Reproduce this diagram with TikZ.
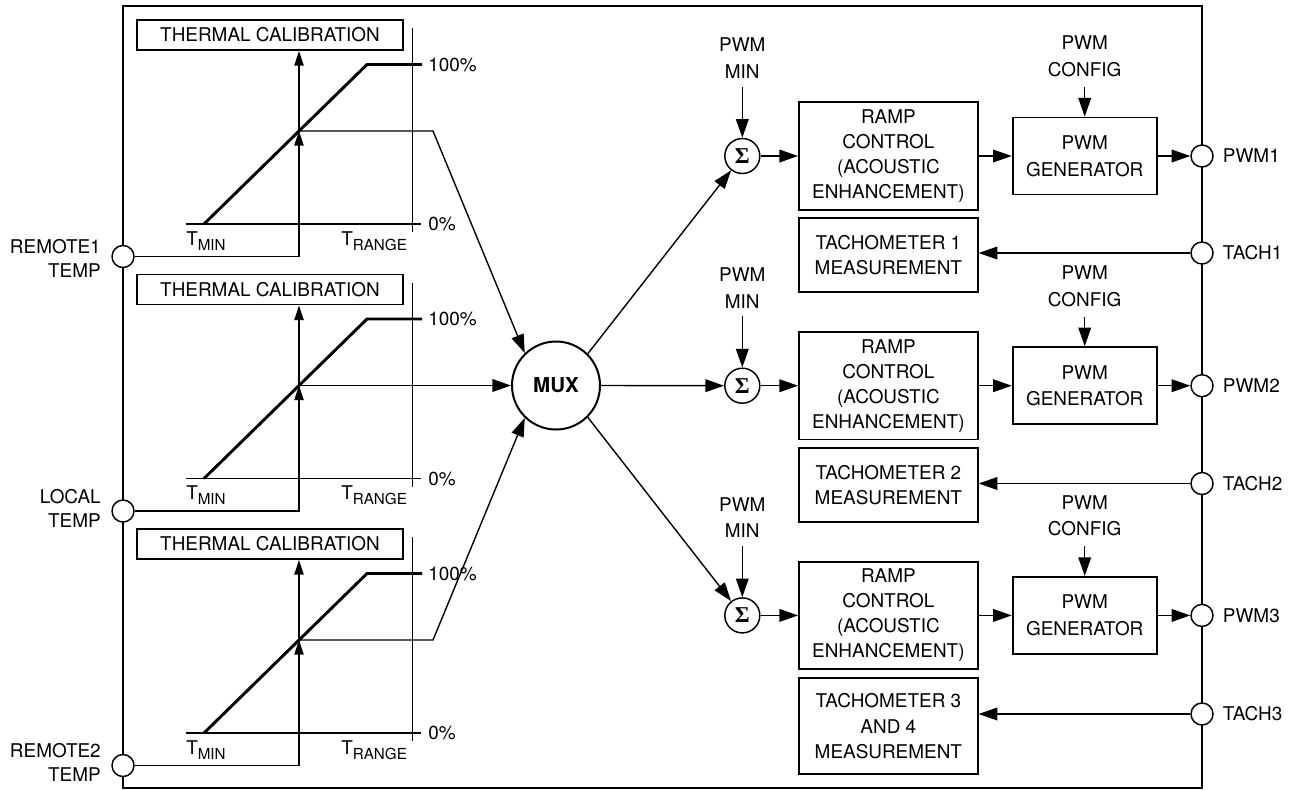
\documentclass[tikz,border=0pt]{standalone}
\usepackage{fontspec}
\setmainfont{TeX Gyre Heros}
\newfontfamily\sigfont{Liberation Serif}
\usetikzlibrary{arrows.meta}
\newcommand{\Tsub}[1]{T\lower3.75pt\hbox{\fontsize{11.4}{12}\selectfont #1}}
\begin{document}
\begin{tikzpicture}[x=0.75pt,y=-0.75pt,
  every node/.style={font=\fontsize{14.2}{19}\selectfont, inner sep=0pt},
  blk/.style={draw, line width=1.4pt, align=center},
  thinline/.style={line width=1.05pt},
  axisline/.style={line width=0.8pt},
  curveline/.style={line width=2.2pt},
  arr/.style={thinline, -{Triangle[length=14pt,width=9.5pt]}},
  sarr/.style={thinline, -{Triangle[length=11pt,width=7pt]}},
  pin/.style={circle, draw, fill=white, line width=1.1pt, minimum size=16.5pt},
  sig/.style={circle, draw, line width=1.1pt, minimum size=26.25pt, font=\sigfont\bfseries\fontsize{17}{17}\selectfont},
  lab2/.style={align=center, font=\fontsize{14.2}{20}\selectfont},
]
\useasboundingbox (0,0) rectangle (1291,790);
\draw[line width=1.5pt] (123,5.5) rectangle (1202,788);

% left pins
\node[pin] (p0) at (123,256.5) {};
\node[pin] (p1) at (123,511) {};
\node[pin] (p2) at (123,765.5) {};
\node[anchor=east, align=right, font=\fontsize{14.2}{18}\selectfont] (lp0) at (101,258) {REMOTE1\\TEMP};
\node[anchor=east, align=right, font=\fontsize{14.2}{18}\selectfont] (lp1) at (101,508) {LOCAL\\TEMP};
\node[anchor=east, align=right, font=\fontsize{14.2}{18}\selectfont] (lp2) at (101,762) {REMOTE2\\TEMP};

% calibration blocks
\foreach \k in {0,1,2} {
  \pgfmathsetmacro\dy{254.5*\k}
  \node[blk, minimum width=199.5pt, minimum height=22.5pt] (cal\k) at (270,35+\dy) {THERMAL CALIBRATION};
  \draw[axisline] (412.3,28+\dy) -- (412.3,232+\dy);
  \draw[axisline] (186,224+\dy) -- (421,224+\dy);
  \draw[curveline] (204,224+\dy) -- (367,64.5+\dy) -- (422,64.5+\dy);
  \coordinate (x\k) at (299,131+\dy);
  \draw[sarr] (p\k.east) -| (x\k);
  \draw[sarr] (x\k) -- (x\k |- cal\k.south);
  \node[anchor=west] (hund\k) at (428,64.5+\dy) {100\%};
  \node[anchor=west] (zero\k) at (428,224+\dy) {0\%};
  \node[anchor=base west] (tmin\k) at (186,245+\dy) {\Tsub{MIN}};
  \node[anchor=base west] (trng\k) at (341,245+\dy) {\Tsub{RANGE}};
}

% MUX
\node[circle, draw, line width=1.5pt, minimum size=66pt, font=\bfseries\fontsize{15.4}{16}\selectfont] (mux) at (556,385.5) {MUX};
\coordinate (b0) at (433,131);
\coordinate (b2) at (433,640);
\draw[arr] (x0) -- (b0) -- (mux.134);
\draw[arr] (x1) -- (mux.west);
\draw[arr] (x2) -- (b2) -- (mux.226);

% right lanes
\foreach \k/\n in {0/1,1/2,2/3} {
  \pgfmathsetmacro\L{156+229.7*\k}
  \node[sig] (s\k) at (742.3,\L) {Σ};
  \node[blk, minimum width=134pt, minimum height=80.7pt, font=\fontsize{14.2}{18.75}\selectfont] (ramp\k) at (888.35,\L) {RAMP\\CONTROL\\(ACOUSTIC\\ENHANCEMENT)};
  \node[blk, minimum width=108pt, minimum height=57.75pt, font=\fontsize{14.2}{20}\selectfont] (gen\k) at (1084.7,\L) {PWM\\GENERATOR};
  \node[pin] (pwm\k) at (1202,\L) {};
  \node[anchor=west] (pwml\k) at (1222.7,\L) {PWM\n};
  \node[lab2] (minlab\k) at (742.3,\L-97.7) {PWM\\MIN};
  \coordinate (mint\k) at (742.3,\L-69.3);
  \draw[arr] (mint\k) -- (s\k.north);
  \node[lab2] (cfglab\k) at (1084.7,\L-99.5) {PWM\\CONFIG};
  \coordinate (cfgt\k) at (1084.7,\L-69);
  \draw[arr] (cfgt\k) -- (gen\k.north);
  \draw[arr] (s\k.east) -- (ramp\k.west);
  \draw[arr] (ramp\k.east) -- (gen\k.west);
  \draw[arr] (gen\k.east) -- (pwm\k.west);
}

% MUX to sums
\draw[arr] (mux.45) -- (s0);
\draw[arr] (mux.east) -- (s1.west);
\draw[arr] (mux.-45) -- (s2);

% tachometers
\node[blk, minimum width=134pt, minimum height=55pt] (tb0) at (888.35,255) {TACHOMETER 1\\MEASUREMENT};
\node[blk, minimum width=134pt, minimum height=55pt] (tb1) at (888.35,485) {TACHOMETER 2\\MEASUREMENT};
\node[blk, minimum width=134pt, minimum height=71.8pt] (tb2) at (888.35,726.15) {TACHOMETER 3\\AND 4\\MEASUREMENT};
\foreach \k/\n in {0/1,1/2,2/3} {
  \pgfmathsetmacro\T{253+230.5*\k}
  \node[pin] (tach\k) at (1202,\T) {};
  \node[anchor=west] (tachl\k) at (1222.7,\T) {TACH\n};
  \draw[arr] (tach\k.west) -- (tb\k.east |- tach\k);
}
\end{tikzpicture}
\end{document}
